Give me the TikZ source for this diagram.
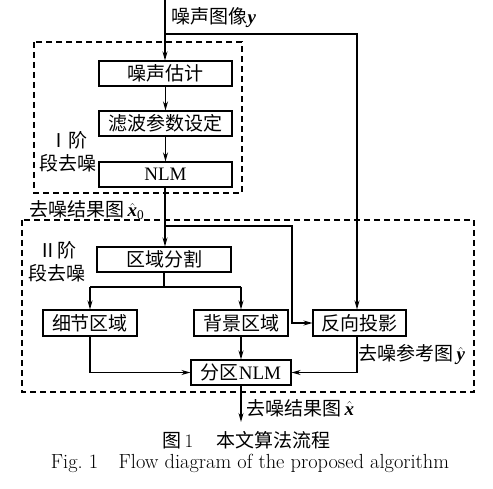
\documentclass[tikz,border=0pt]{standalone}
\usepackage{amsmath}
\usepackage{fontspec}
\newfontfamily\cjk{Noto Sans CJK SC}
\newfontfamily\tnr{Liberation Serif}
\newcommand{\bvar}[1]{\text{\tnr\bfseries\itshape #1}}
\usetikzlibrary{arrows.meta}
\begin{document}
\begin{tikzpicture}[x=1pt,y=-1pt,
  font=\fontsize{19}{23}\selectfont\cjk,
  every path/.style={line width=1.1pt},
  stagebox/.style={draw,line width=1.1pt,minimum height=25pt,inner sep=0pt},
  stage/.style={draw,dashed,dash pattern=on 6pt off 4pt,line width=1.2pt},
  flow/.style={-{Stealth[length=9pt,width=5pt]}}]

\useasboundingbox (0,0) rectangle (493,489);

% dashed stage frames
\draw[stage] (34,42) rectangle (242,193);
\draw[stage] (22,220) rectangle (474,392);

% boxes
\node[stagebox,minimum width=133pt] (est)    at (165.5,73.5) {噪声估计};
\node[stagebox,minimum width=133pt] (param)  at (165.5,123.5) {滤波参数设定};
\node[stagebox,minimum width=133pt] (nlmone) at (165.5,174.5) {\tnr NLM};
\node[stagebox,minimum width=134pt] (seg)    at (164,259.5) {区域分割};
\node[stagebox,minimum width=94pt,minimum height=26pt] (detail) at (90,323) {细节区域};
\node[stagebox,minimum width=94pt,minimum height=26pt] (bg)     at (241,323) {背景区域};
\node[stagebox,minimum width=93pt,minimum height=26pt] (back)   at (359.5,323) {反向投影};
\node[stagebox,minimum width=100pt] (nlmtwo) at (241,372.5) {分区{\tnr NLM}};

\coordinate (in)    at (165,0);
\coordinate (split) at (165,34);
\coordinate (mid)   at (165,226);
\coordinate (fork)  at (164,287);
\coordinate (out)   at (241,422);

% stage I
\draw[flow] (in) -- (est.north -| in);
\draw[flow] (est) -- (param);
\draw[flow] (param) -- (nlmone);
\draw[flow] (split) -- (357,34) -- (back.north -| 357,0);

% stage II
\draw[flow] (nlmone.south -| in) -- (seg.north -| in);
\draw[flow] (mid) -- (292,226) -- (292,323) -- (back.west);
\draw (seg.south) -- (fork);
\draw[flow] (detail.north |- fork) -| (detail.north);
\draw (detail.north |- fork) -- (bg.north |- fork);
\draw[flow] (bg.north |- fork) -- (bg.north);
\draw[flow] (detail.south) |- (nlmtwo.west);
\draw[flow] (bg.south) -- (nlmtwo.north);
\draw[flow] (back.south -| 357,0) |- (nlmtwo.east);
\draw[flow] (nlmtwo.south) -- (out);

% labels
\node[anchor=west,inner sep=0pt] (lblin) at (171,18) {噪声图像$\bvar{y}$};
\node[align=center,inner sep=0pt] (lblone) at (68,152) {Ⅰ阶\\段去噪};
\node[align=center,inner sep=0pt] (lbltwo) at (57,262) {Ⅱ阶\\段去噪};
\node[anchor=west,inner sep=0pt] (lblmid) at (29,210) {去噪结果图\,$\hat{\bvar{x}}_{\text{\tnr 0}}$};
\node[anchor=west,inner sep=0pt] (lblref) at (358,355) {去噪参考图\,$\hat{\bvar{y}}$};
\node[anchor=west,inner sep=0pt] (lblout) at (246,408) {去噪结果图\,$\hat{\bvar{x}}$};

% caption
\node[anchor=west,inner sep=0pt] (capzh) at (162,440) {图\,{\rmfamily 1}\hspace{1.2em}本文算法流程};
\node[inner sep=0pt,font=\fontsize{20.4}{22}\selectfont\rmfamily] (capen) at (250,463)
  {Fig.~1\quad Flow diagram of the proposed algorithm};
\end{tikzpicture}
\end{document}
